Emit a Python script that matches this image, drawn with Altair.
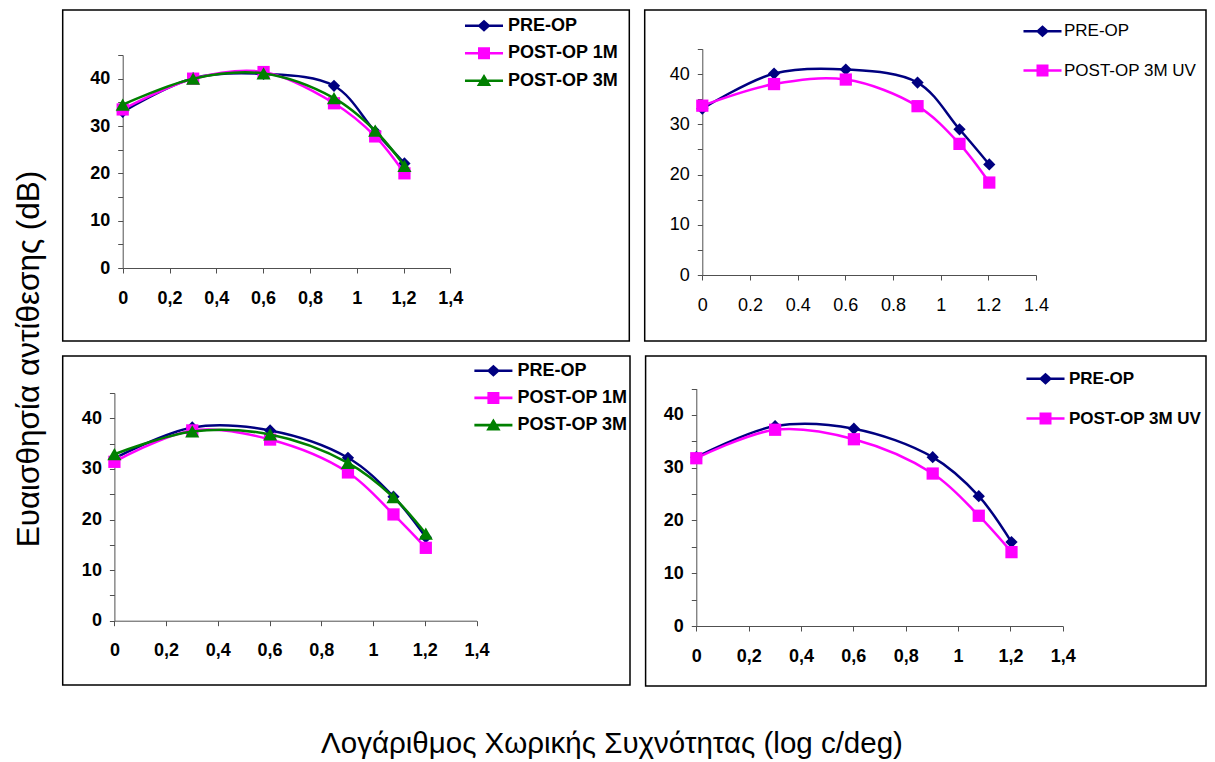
import altair as alt
import pandas as pd

# ---------------- data ----------------
X_LOG = [0.0, 0.301, 0.602, 0.903, 1.079, 1.204]

A_SERIES = ["PRE-OP", "POST-OP 1M", "POST-OP 3M"]
A_PRE = [33.0, 40.1, 41.0, 38.5, 28.8, 22.1]
A_1M = [33.5, 40.0, 41.4, 34.8, 27.8, 20.0]
A_3M = [34.5, 40.0, 41.1, 35.9, 29.0, 21.6]

B_SERIES = ["PRE-OP", "POST-OP 3M UV"]
B_PRE = [33.1, 40.1, 40.9, 38.3, 29.0, 22.0]
B_UV = [33.7, 38.0, 38.9, 33.6, 26.1, 18.4]

C_SERIES = ["PRE-OP", "POST-OP 1M", "POST-OP 3M"]
C_PRE = [32.1, 38.2, 37.6, 32.2, 24.5, 16.5]
C_1M = [31.4, 37.6, 35.8, 29.3, 21.0, 14.4]
C_3M = [32.9, 37.4, 36.8, 31.2, 24.4, 17.2]

D_SERIES = ["PRE-OP", "POST-OP 3M UV"]
D_PRE = [32.0, 37.9, 37.4, 32.0, 24.6, 15.9]
D_UV = [31.8, 37.2, 35.4, 28.9, 20.9, 14.0]

X_TICKS = [0, 0.2, 0.4, 0.6, 0.8, 1.0, 1.2, 1.4]
Y_TICKS = [0, 5, 10, 15, 20, 25, 30, 35, 40, 45]

Y_TITLE = "Ευαισθησία αντίθεσης (dB)"
X_TITLE = "Λογάριθμος Χωρικής Συχνότητας (log c/deg)"

# ---------------- style ----------------
W, H = 1199, 754
FONT = "Liberation Sans"
NAVY, MAGENTA, GREEN = "#000080", "#FF00FF", "#008000"
AXIS_COLOR = "#505050"

LINE_BAR = "M-3.17,-0.22L3.17,-0.22L3.17,0.22L-3.17,0.22Z"
LEG_DIAMOND = LINE_BAR + "M-1.1,0L0,-1L1.1,0L0,1Z"
LEG_SQUARE = LINE_BAR + "M-1,-1L1,-1L1,1L-1,1Z"
LEG_TRIANGLE = LINE_BAR + "M0,-1.1L1.2,0.9L-1.2,0.9Z"

MARKER = {"diamond": 150, "square": 150, "triangle-up": 200}


def panel(names, values, colors, shapes, paths, xr, yr, bold, comma,
          leg_x, leg_y, row_pad, leg_font=18, label_off=15):
    rows = []
    for name, vals in zip(names, values):
        for x, v in zip(X_LOG, vals):
            rows.append({"x": x, "y": v, "series": name})
    df = pd.DataFrame(rows)
    weight = "bold" if bold else "normal"
    if comma:
        xlab = "replace(format(datum.value, '~g'), '.', ',')"
    else:
        xlab = "format(datum.value, '~g')"
    xenc = alt.X(
        "x:Q",
        scale=alt.Scale(domain=[0, 1.4], range=list(xr), nice=False, zero=False),
        axis=alt.Axis(
            orient="bottom", offset=yr[0] - H, values=X_TICKS, labelExpr=xlab,
            title=None, grid=False, domainColor=AXIS_COLOR, tickColor=AXIS_COLOR,
            domainWidth=1, tickWidth=1, tickSize=5, labelPadding=16,
            labelFont=FONT, labelFontSize=18, labelFontWeight=weight,
            labelColor="black", labelFlush=False, labelOverlap=False,
        ),
    )
    yenc = alt.Y(
        "y:Q",
        scale=alt.Scale(domain=[0, 45], range=list(yr), nice=False, zero=False),
        axis=alt.Axis(
            orient="left", offset=-xr[0], values=Y_TICKS,
            labelExpr="datum.value % 10 == 0 ? format(datum.value, 'd') : ''",
            title=None, grid=False, domainColor=AXIS_COLOR, tickColor=AXIS_COLOR,
            domainWidth=1, tickWidth=1, tickSize=5, labelPadding=8,
            labelFont=FONT, labelFontSize=18, labelFontWeight=weight,
            labelColor="black", labelFlush=False, labelOverlap=False,
        ),
    )
    base = alt.Chart(df)
    layers = []
    for name, color, shape in zip(names, colors, shapes):
        sel = alt.datum.series == name
        layers.append(
            base.transform_filter(sel)
            .mark_line(color=color, strokeWidth=2.5, interpolate="catmull-rom")
            .encode(x=xenc, y=yenc)
        )
        layers.append(
            base.transform_filter(sel)
            .mark_point(filled=True, shape=shape, size=MARKER[shape], color=color,
                        opacity=1, strokeWidth=0)
            .encode(x=xenc, y=yenc)
        )
    leg = alt.Legend(
        orient="none", legendX=leg_x, legendY=leg_y, title=None,
        labelFont=FONT, labelFontSize=leg_font, labelFontWeight=weight,
        labelColor="black", symbolSize=144, symbolStrokeWidth=0,
        symbolOffset=10, labelOffset=label_off, rowPadding=row_pad, padding=0,
        labelLimit=0,
    )
    legend_layer = (
        base.transform_filter("false")
        .mark_point(filled=True, opacity=1)
        .encode(
            fill=alt.Fill("series:N", scale=alt.Scale(domain=names, range=colors), legend=leg),
            shape=alt.Shape("series:N", scale=alt.Scale(domain=names, range=paths), legend=leg),
        )
    )
    return alt.layer(*layers, legend_layer)


pA = panel(A_SERIES, [A_PRE, A_1M, A_3M], [NAVY, MAGENTA, GREEN],
           ["diamond", "square", "triangle-up"], [LEG_DIAMOND, LEG_SQUARE, LEG_TRIANGLE],
           (114.7, 442.3), (260, 47), True, True, 457, 8.7, 9.5)
pB = panel(B_SERIES, [B_PRE, B_UV], [NAVY, MAGENTA],
           ["diamond", "square"], [LEG_DIAMOND, LEG_SQUARE],
           (694.3, 1028), (267, 40.9), False, False, 1016, 14.7, 21.3,
           leg_font=17, label_off=13)
pC = panel(C_SERIES, [C_PRE, C_1M, C_3M], [NAVY, MAGENTA, GREEN],
           ["diamond", "square", "triangle-up"], [LEG_DIAMOND, LEG_SQUARE, LEG_TRIANGLE],
           (106.4, 468.5), (612.7, 385), True, True, 466.4, 353.7, 9.2)
pD = panel(D_SERIES, [D_PRE, D_UV], [NAVY, MAGENTA],
           ["diamond", "square"], [LEG_DIAMOND, LEG_SQUARE],
           (688.3, 1054.8), (618, 380.6), True, True, 1019, 362.3, 21.7,
           leg_font=17, label_off=15)

one = alt.Chart(pd.DataFrame({"k": [0]}))

frames = []
for (x1, y1, x2, y2) in [(54.7, 2, 621.3, 333), (636.7, 2, 1198, 333),
                         (54.7, 348, 622, 677), (637.6, 348, 1198, 678)]:
    frames.append(
        one.mark_rect(fill=None, stroke="black", strokeWidth=1.5)
        .encode(x=alt.value(x1), y=alt.value(y1), x2=alt.value(x2), y2=alt.value(y2))
    )

ytitle = one.mark_text(text=Y_TITLE, font=FONT, fontSize=31.5, angle=270,
                       align="center", baseline="middle", color="black").encode(
    x=alt.value(22), y=alt.value(351))
xtitle = one.mark_text(text=X_TITLE, font=FONT, fontSize=29.5,
                       align="center", baseline="middle", color="black").encode(
    x=alt.value(604), y=alt.value(736))

chart = (
    alt.layer(*frames, pA, pB, pC, pD, ytitle, xtitle)
    .resolve_scale(x="independent", y="independent", fill="independent", shape="independent")
    .resolve_axis(x="independent", y="independent")
    .resolve_legend(fill="independent", shape="independent")
    .properties(width=W, height=H, autosize=alt.AutoSizeParams(type="none"), padding=0)
    .configure(background="white")
    .configure_view(stroke=None)
)

chart.save("out.html", embed_options={"renderer": "svg", "actions": False})
